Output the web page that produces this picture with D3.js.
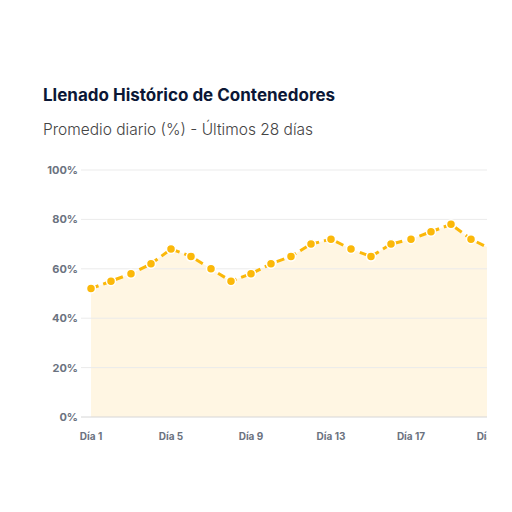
<!DOCTYPE html>
<html><head><meta charset="utf-8">
<script src="https://cdn.jsdelivr.net/npm/d3@7"></script>
<style>body{margin:0;background:#fff;}svg{display:block;}</style>
</head><body>
<svg id="c" width="512" height="512"></svg>
<script>
const days = ["Día 1","Día 2","Día 3","Día 4","Día 5","Día 6","Día 7","Día 8","Día 9","Día 10","Día 11","Día 12","Día 13","Día 14","Día 15","Día 16","Día 17","Día 18","Día 19","Día 20","Día 21"];
const values = [52,55,58,62,68,65,60,55,58,62,65,70,72,68,65,70,72,75,78,72,68];
const yTicks = [0,20,40,60,80,100];
const tickDays = ["Día 1","Día 5","Día 9","Día 13","Día 17","Día 21"];

(function(){
const svg = d3.select("#c");
svg.append("text").attr("x",43).attr("y",101).attr("font-family","Inter, sans-serif").attr("font-weight",700).attr("font-size",17).attr("fill","#0b1736").text("Llenado Histórico de Contenedores");
svg.append("text").attr("x",43).attr("y",135).attr("font-family","Inter, sans-serif").attr("font-weight",300).attr("font-size",15.5).attr("fill","#444").text("Promedio diario (%) - Últimos 28 días");

const pL=91, pR=487, pT=170, pB=417;
const x = d3.scalePoint().domain(days).range([pL, pL+20*(days.length-1)]);
const y = d3.scaleLinear().domain([0,100]).range([pB, pT]);
const defs = svg.append("defs");
defs.append("clipPath").attr("id","clip").append("rect").attr("x",pL-10).attr("y",pT-10).attr("width",pR-pL+10).attr("height",pB-pT+20);
defs.append("clipPath").attr("id","clipa").append("rect").attr("x",pL).attr("y",pT-10).attr("width",pR-pL).attr("height",pB-pT+10);
defs.append("clipPath").attr("id","clipl").append("rect").attr("x",0).attr("y",420).attr("width",pR).attr("height",30);

const data = days.map((d,i)=>({d,v:values[i]}));
svg.append("g").attr("clip-path","url(#clipa)").append("path").datum(data)
  .attr("d", d3.area().x(p=>x(p.d)).y0(y(0)).y1(p=>y(p.v))).attr("fill","#fff6e3");

const g = svg.append("g");
yTicks.forEach(t=>{
  g.append("line").attr("x1",pL-10).attr("x2",pR).attr("y1",y(t)).attr("y2",y(t)).attr("stroke", t===0?"#d6d6d6":"#ebebeb").attr("stroke-width",1);
  g.append("text").attr("x",78).attr("y",y(t)+4).attr("text-anchor","end").attr("font-family","Inter, sans-serif").attr("font-weight",700).attr("font-size",11).attr("fill","#6b7280").text(t+"%");
});

svg.append("g").attr("clip-path","url(#clipa)").append("path").datum(data)
  .attr("d", d3.line().x(p=>x(p.d)).y(p=>y(p.v))).attr("fill","none").attr("stroke","#fbb80a").attr("stroke-width",3).attr("stroke-dasharray","8,5");
svg.append("g").attr("clip-path","url(#clip)").selectAll("circle").data(data.filter(p=>x(p.d)<=pR)).enter().append("circle")
  .attr("cx",p=>x(p.d)).attr("cy",p=>y(p.v)).attr("r",4.5).attr("fill","#fbb80a").attr("stroke","#fff").attr("stroke-width",1.5);

const lg = svg.append("g").attr("clip-path","url(#clipl)");
tickDays.forEach(d=>{
  lg.append("text").attr("x",x(d)).attr("y",440).attr("text-anchor","middle").attr("font-family","Inter, sans-serif").attr("font-weight",700).attr("font-size",10).attr("fill","#6b7280").text(d);
});
})();
</script>
</body></html>
